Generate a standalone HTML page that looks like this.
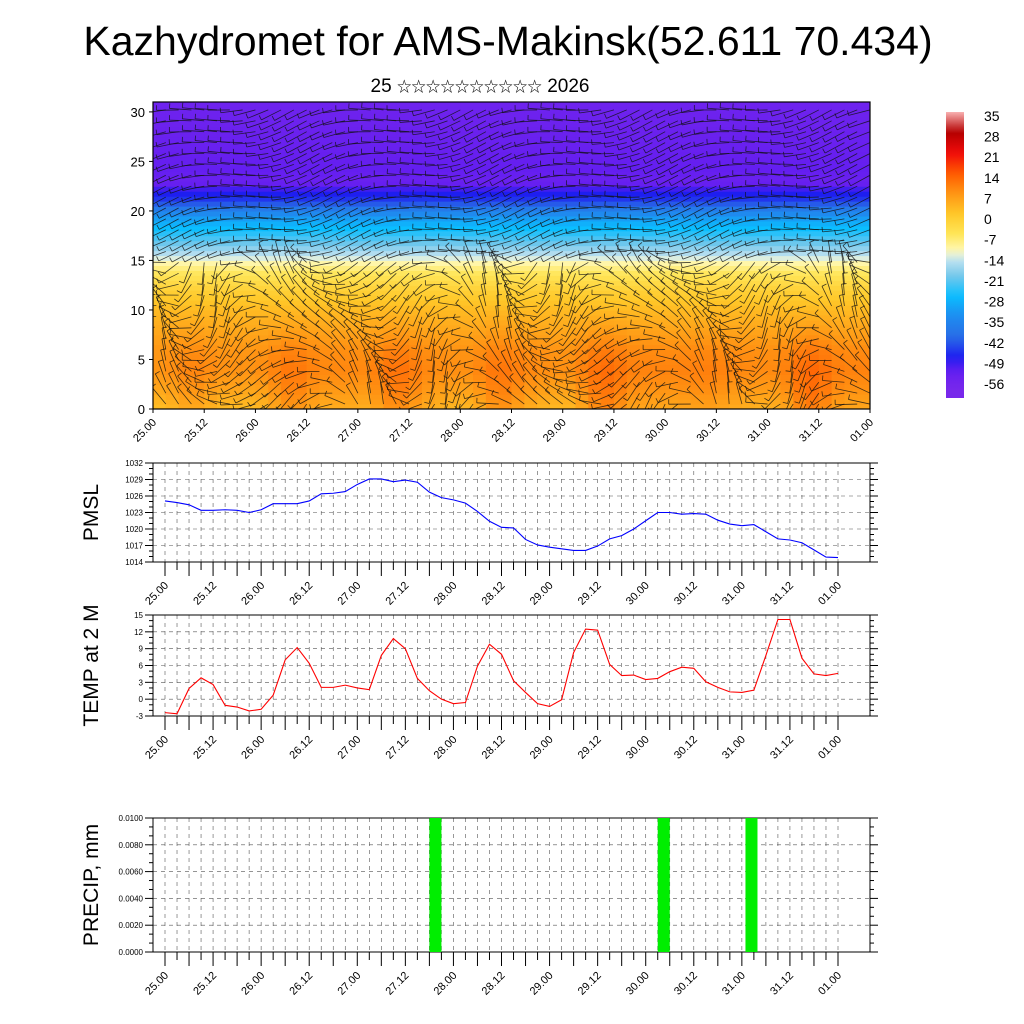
<!DOCTYPE html>
<html><head><meta charset="utf-8">
<style>
body{margin:0;background:#fff;}
svg{display:block;font-family:"Liberation Sans","Noto Sans CJK SC","DejaVu Sans",sans-serif;}
</style></head>
<body>
<svg id="c" width="1024" height="1024" viewBox="0 0 1024 1024" xmlns="http://www.w3.org/2000/svg">
<text x="508" y="55" font-size="41" text-anchor="middle">Kazhydromet for AMS-Makinsk(52.611 70.434)</text>
<text x="480" y="92" font-size="19" text-anchor="middle">25 <tspan font-size="14.5">☆☆☆☆☆☆☆☆☆☆</tspan> 2026</text>
</svg>
<script>
// ---- data ----
const tickLabels=["25.00","25.12","26.00","26.12","27.00","27.12","28.00","28.12","29.00","29.12","30.00","30.12","31.00","31.12","01.00"];
const pmsl=[1025.1,1024.8,1024.4,1023.4,1023.4,1023.5,1023.4,1023.0,1023.5,1024.6,1024.6,1024.6,1025.1,1026.4,1026.5,1026.8,1028.1,1029.1,1029.1,1028.6,1028.9,1028.5,1026.7,1025.7,1025.3,1024.7,1023.2,1021.4,1020.3,1020.2,1018.1,1017.1,1016.7,1016.4,1016.1,1016.1,1016.9,1018.2,1018.8,1020.0,1021.5,1023.0,1023.0,1022.7,1022.8,1022.7,1021.6,1020.9,1020.6,1020.8,1019.5,1018.2,1018.0,1017.5,1016.2,1014.9,1014.8];
const temp2m=[-2.4,-2.6,1.9,3.8,2.6,-1.1,-1.4,-2.1,-1.8,0.7,7.0,9.2,6.4,2.1,2.1,2.5,2.0,1.7,7.8,10.8,9.0,3.7,1.5,0.0,-0.8,-0.6,5.9,9.8,8.0,3.3,1.2,-0.8,-1.3,-0.1,8.3,12.5,12.3,6.2,4.2,4.3,3.5,3.7,4.9,5.7,5.5,3.1,2.1,1.3,1.2,1.6,7.8,14.2,14.2,7.3,4.5,4.2,4.6];
const precipIdx=[22,41,48.3];
const precipVal=[0.01,0.01,0.01];
const pmslTicks=[1014,1017,1020,1023,1026,1029,1032];
const tempTicks=[-3,0,3,6,9,12,15];
const precipTicks=[0,0.002,0.004,0.006,0.008,0.01];
const levels=[0,2,4,6,8,10,12,13,14,15,16,17,18,19,20,21,22,23,24,26,28,31];
const levelTemp=[4,7,9,8,5,2,-2,-5,-8,-13,-18,-23,-27,-31,-37,-46,-50,-56,-54,-55,-56,-57];
const cbarLabels=[35,28,21,14,7,0,-7,-14,-21,-28,-35,-42,-49,-56];

const NS='http://www.w3.org/2000/svg';
const svg=document.getElementById('c');
function el(t,a,p){const e=document.createElementNS(NS,t);for(const k in a)e.setAttribute(k,a[k]);(p||svg).appendChild(e);return e;}

const cstops=[[-60,[120,40,235]],[-54,[100,30,240]],[-49,[30,30,240]],[-42,[40,110,230]],[-35,[30,140,240]],[-28,[10,190,255]],[-21,[120,200,235]],[-15,[200,230,242]],[-13,[255,250,190]],[-7,[255,230,90]],[0,[255,200,40]],[7,[255,150,20]],[14,[255,90,0]],[21,[240,10,10]],[28,[180,0,0]],[35,[248,176,176]]];
function cmap(v){if(v<=cstops[0][0])return rgb(cstops[0][1]);for(let i=1;i<cstops.length;i++){if(v<=cstops[i][0]){const a=cstops[i-1],b=cstops[i],t=(v-a[0])/(b[0]-a[0]);return rgb(a[1].map((c,j)=>c+(b[1][j]-c)*t));}}return rgb(cstops[cstops.length-1][1]);}
function rgb(c){return 'rgb('+c.map(Math.round).join(',')+')';}

// ---- top cross-section ----
const T={l:153,r:870,t:102,b:409};
const tx=i=>T.l+(T.r-T.l)*i/56;
const ty=h=>T.b-(T.b-T.t)*h/31;
function profile(h){for(let k=1;k<levels.length;k++){if(h<=levels[k]){const t=(h-levels[k-1])/(levels[k]-levels[k-1]);return levelTemp[k-1]+(levelTemp[k]-levelTemp[k-1])*t;}}return levelTemp[levelTemp.length-1];}
const defs=el('defs',{});
const cp=el('clipPath',{id:'topclip'},defs);
el('rect',{x:T.l,y:T.t,width:T.r-T.l,height:T.b-T.t},cp);
const gTop=el('g',{'clip-path':'url(#topclip)'});


for(let i=0;i<56;i++){
  const sfc=(temp2m[i]+temp2m[i+1])/2;
  for(let h=0;h<31;h+=0.5){
    let v=profile(h+0.25);
    if(h<10) v+= (sfc-3)*0.5*(1-h/10);
    el('rect',{x:tx(i),y:ty(h+0.5),width:tx(i+1)-tx(i)+0.6,height:ty(h)-ty(h+0.5)+0.6,fill:cmap(v)},gTop);
  }
}
const gB=el('g',{stroke:'#111','stroke-width':'0.8','stroke-opacity':'0.8',fill:'none','clip-path':'url(#topclip)'});


for(let i=0;i<=56;i++){for(let h=0.5;h<31;h+=1.1){
  const x=tx(i),y=ty(h);
  const a=(h>15?0.3:1.1)*Math.sin(i*0.45+h*0.2)+(h>15?-0.2:0.4*Math.cos(i*0.7));
  const L=22;
  const x2=x-L*Math.cos(a),y2=y-L*Math.sin(a);
  el('line',{x1:x,y1:y,x2:x2,y2:y2},gB);
  el('line',{x1:x2,y1:y2,x2:x2+5*Math.sin(a),y2:y2-5*Math.cos(a)},gB);
}}
el('rect',{x:T.l,y:T.t,width:T.r-T.l,height:T.b-T.t,fill:'none',stroke:'#000','stroke-width':'1.2'});
for(let v=0;v<=30;v+=5){el('line',{x1:T.l-4,x2:T.l,y1:ty(v),y2:ty(v),stroke:'#000'});const t=el('text',{x:T.l-8,y:ty(v)+5,'font-size':'13','text-anchor':'end'});t.textContent=v;}
tickLabels.forEach((s,k)=>{const x=T.l+k*(T.r-T.l)/14;el('line',{x1:x,x2:x,y1:T.b,y2:T.b+4,stroke:'#000'});const t=el('text',{x:0,y:0,'font-size':'11','text-anchor':'end',transform:`translate(${x+4},${T.b+14}) rotate(-45)`});t.textContent=s;});

// colorbar
const CB={x:946,w:18,t:112,b:398};
const lg=el('linearGradient',{id:'cbg',x1:0,y1:1,x2:0,y2:0},defs);
for(let k=0;k<=40;k++){const v=-63+98*k/40;el('stop',{offset:k/40,'stop-color':cmap(v)},lg);}
const cb=el('rect',{x:CB.x,y:CB.t,width:CB.w,height:CB.b-CB.t,fill:'url(#cbg)'});

cbarLabels.forEach((v,k)=>{const y=116+k*(384-116)/13;const t=el('text',{x:984,y:y+5,'font-size':'14'});t.textContent=v;});

// ---- lower panels ----
const X0=165,X1=838,BL=153,BR=870;
const px=i=>X0+(X1-X0)*i/56;
function panel(top,bot,ticks,fmt,title,name,fs){
  const mn=ticks[0],mx=ticks[ticks.length-1];
  const py=v=>bot-(bot-top)*(v-mn)/(mx-mn);
  const g=el('g',{});
  for(let i=0;i<=56;i++){el('line',{x1:px(i),x2:px(i),y1:top,y2:bot,stroke:'#555','stroke-width':'0.6','stroke-dasharray':'4,4'},g);
    el('line',{x1:px(i),x2:px(i),y1:bot,y2:bot+(i%2?8:14),stroke:'#000','stroke-width':'1'},g);}
  ticks.forEach((v,k)=>{
    if(k>0&&k<ticks.length-1)el('line',{x1:BL,x2:BR,y1:py(v),y2:py(v),stroke:'#555','stroke-width':'0.6','stroke-dasharray':'4,4'},g);
    el('line',{x1:BL,x2:BL-8,y1:py(v),y2:py(v),stroke:'#000'},g);el('line',{x1:BR,x2:BR+8,y1:py(v),y2:py(v),stroke:'#000'},g);
    if(k<ticks.length-1)for(let m=1;m<3;m++){const yy=py(v)+(py(ticks[k+1])-py(v))*m/3;el('line',{x1:BL,x2:BL-4,y1:yy,y2:yy,stroke:'#000'},g);el('line',{x1:BR,x2:BR+4,y1:yy,y2:yy,stroke:'#000'},g);}
    const t=el('text',{x:BL-10,y:py(v)+3,'font-size':fs,'text-anchor':'end'},g);t.textContent=fmt(v);
    
  });
  el('rect',{x:BL,y:top,width:BR-BL,height:bot-top,fill:'none',stroke:'#000','stroke-width':'1'},g);
  tickLabels.forEach((s,k)=>{const x=px(k*4);const t=el('text',{x:0,y:0,'font-size':'11','text-anchor':'end',transform:`translate(${x+4},${bot+24}) rotate(-45)`},g);t.textContent=s;});
  const yt=el('text',{x:0,y:0,'font-size':'21','text-anchor':'middle',transform:`translate(${98},${(top+bot)/2}) rotate(-90)`},g);yt.textContent=title;
  
  return py;
}
const pyP=panel(463,562,pmslTicks,v=>v,'PMSL','pmsl','8');
const lp=el('polyline',{points:pmsl.map((v,i)=>px(i)+','+pyP(v)).join(' '),fill:'none',stroke:'#0000ff','stroke-width':'1.1'});

const pyT=panel(615,716,tempTicks,v=>v,'TEMP at 2 M','temp','8');
const lt=el('polyline',{points:temp2m.map((v,i)=>px(i)+','+pyT(v)).join(' '),fill:'none',stroke:'#ff0000','stroke-width':'1.1'});

const pyR=panel(818,952,precipTicks,v=>v.toFixed(4),'PRECIP, mm','precip','8');
precipIdx.forEach((ix,k)=>{const b=el('rect',{x:px(ix),y:pyR(precipVal[k]),width:px(ix+1)-px(ix),height:pyR(0)-pyR(precipVal[k]),fill:'#00ee00'});
});
</script>
</body></html>
